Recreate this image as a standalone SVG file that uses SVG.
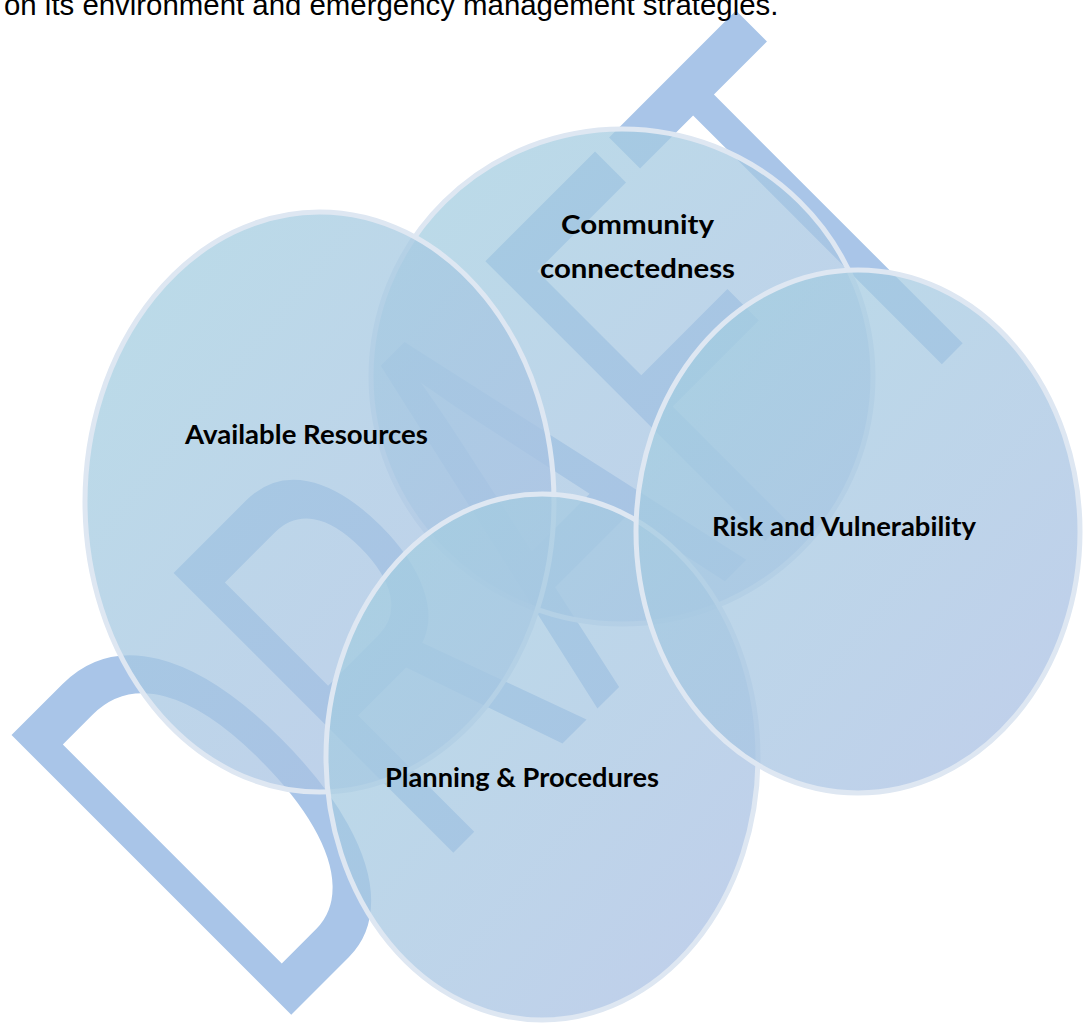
<svg xmlns="http://www.w3.org/2000/svg" width="1083" height="1023" viewBox="0 0 1083 1023">
  <defs>
    <linearGradient id="venn" x1="0" y1="0" x2="1" y2="1">
      <stop offset="0" stop-color="#A3D0E0"/>
      <stop offset="1" stop-color="#ABBEE4"/>
    </linearGradient>
  </defs>
  <style>
    .watermark { font-family: "Liberation Sans", Arial, sans-serif; font-size: 575px; fill: #A9C5E8; }
    .body { font-family: "Liberation Sans", Arial, sans-serif; font-size: 29.4px; fill: #000000; }
    .circle { fill: url(#venn); fill-opacity: 0.75; stroke: #DEE7F2; stroke-width: 5; }
    .label { font-family: Lato, "Open Sans", "Liberation Sans", sans-serif; font-weight: bold; font-size: 26.5px; fill: #000000; }
  </style>
  <rect x="0" y="0" width="1083" height="1023" fill="#FFFFFF"/>
  <text class="watermark" x="-44" y="0" transform="translate(290,1016) rotate(-45) scale(0.552,1)">DRAFT</text>
  <text class="body" x="4" y="15">on its environment and emergency management strategies.</text>
  <g id="connectors"/>
  <g id="node-community">
    <ellipse class="circle" cx="622" cy="376.5" rx="251" ry="247.5"/>
    <text class="label" x="561" y="234" textLength="153" lengthAdjust="spacingAndGlyphs">Community</text>
    <text class="label" x="540" y="278" textLength="195" lengthAdjust="spacingAndGlyphs">connectedness</text>
  </g>
  <g id="node-available">
    <ellipse class="circle" cx="319.5" cy="502" rx="234.5" ry="290"/>
    <text class="label" x="185" y="444" textLength="243" lengthAdjust="spacingAndGlyphs">Available Resources</text>
  </g>
  <g id="node-planning">
    <ellipse class="circle" cx="542" cy="757" rx="216" ry="263"/>
    <text class="label" x="385" y="787" textLength="274" lengthAdjust="spacingAndGlyphs">Planning &amp; Procedures</text>
  </g>
  <g id="node-risk">
    <ellipse class="circle" cx="858" cy="531.5" rx="222" ry="261.5"/>
    <text class="label" x="712" y="536" textLength="264" lengthAdjust="spacingAndGlyphs">Risk and Vulnerability</text>
  </g>
</svg>
